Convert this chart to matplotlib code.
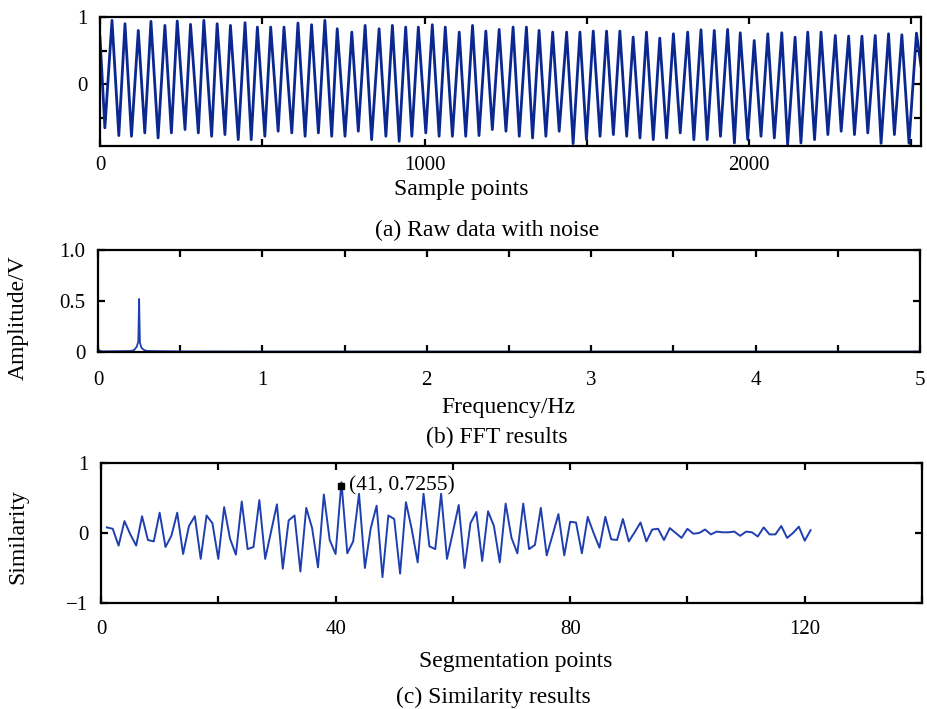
import matplotlib
matplotlib.use("Agg")
import matplotlib.pyplot as plt

plt.rcParams["font.family"] = ["Liberation Serif", "DejaVu Serif"]

# (a) raw signal: extrema (sample index, value)
raw_start = (0, 0.70)
raw_end = (2530, 0.27)
peak_pos = [37, 77, 118, 157, 200, 238, 279, 320, 361, 402, 447, 485, 526, 567, 610,
            652, 693, 731, 776, 817, 860, 901, 942, 981, 1024, 1064, 1107, 1148, 1189, 1230,
            1273, 1314, 1353, 1395, 1438, 1479, 1520, 1561, 1602, 1643, 1684, 1725, 1767, 1811,
            1852, 1893, 1934, 1973, 2016, 2058, 2101, 2142, 2181, 2222, 2266, 2307, 2348, 2389,
            2430, 2471, 2516]
peak_val = [0.95, 0.90, 0.80, 0.935, 0.875, 0.94, 0.89, 0.95, 0.90, 0.875,
            0.915, 0.85, 0.85, 0.85, 0.91, 0.885, 0.95, 0.825, 0.775, 0.875,
            0.825, 0.875, 0.85, 0.85, 0.885, 0.85, 0.775, 0.875, 0.79, 0.815,
            0.85, 0.85, 0.80, 0.775, 0.775, 0.775, 0.79, 0.79, 0.79, 0.70,
            0.775, 0.685, 0.75, 0.775, 0.81, 0.80, 0.815, 0.765, 0.65, 0.75,
            0.765, 0.70, 0.775, 0.775, 0.725, 0.715, 0.715, 0.725, 0.75, 0.735, 0.76]
trough_pos = [15, 58, 97, 138, 179, 220, 262, 303, 344, 385, 426, 466, 508, 549, 591,
              632, 673, 714, 755, 796, 837, 881, 922, 961, 1004, 1045, 1086, 1127, 1168, 1209,
              1251, 1292, 1333, 1374, 1415, 1458, 1499, 1541, 1582, 1623, 1664, 1705, 1746, 1788,
              1830, 1871, 1912, 1955, 1996, 2037, 2078, 2119, 2160, 2202, 2243, 2284, 2325, 2366,
              2407, 2448, 2493]
trough_val = [-0.65, -0.765, -0.775, -0.725, -0.80, -0.725, -0.675, -0.725, -0.775, -0.75,
              -0.825, -0.825, -0.775, -0.70, -0.725, -0.775, -0.725, -0.775, -0.775, -0.70,
              -0.825, -0.775, -0.85, -0.775, -0.725, -0.775, -0.775, -0.775, -0.765, -0.675,
              -0.70, -0.775, -0.80, -0.775, -0.70, -0.885, -0.825, -0.775, -0.75, -0.775,
              -0.80, -0.825, -0.80, -0.725, -0.825, -0.825, -0.775, -0.875, -0.825, -0.775,
              -0.80, -0.90, -0.875, -0.825, -0.75, -0.70, -0.75, -0.725, -0.88, -0.75, -0.88]

# (b) FFT amplitude spectrum
fft_freq = [0.0, 0.01, 0.03, 0.10, 0.20, 0.22, 0.235, 0.245, 0.25, 0.255, 0.265, 0.28, 0.30,
            0.50, 1.0, 2.0, 3.0, 4.0, 5.0]
fft_amp = [0.03, 0.012, 0.006, 0.008, 0.01, 0.02, 0.05, 0.10, 0.52, 0.09, 0.04, 0.02, 0.01,
           0.006, 0.005, 0.005, 0.005, 0.005, 0.005]

# (c) similarity per segmentation point 1..121
sim_idx = list(range(1, 122))
sim_val = [0.08, 0.06, -0.18, 0.17, -0.02, -0.18, 0.24, -0.10, -0.12, 0.29,
           -0.20, -0.04, 0.29, -0.30, 0.10, 0.24, -0.37, 0.25, 0.14, -0.37,
           0.37, -0.08, -0.31, 0.45, -0.23, -0.20, 0.47, -0.37, 0.02, 0.41,
           -0.51, 0.18, 0.25, -0.55, 0.36, 0.07, -0.49, 0.55, -0.10, -0.30,
           0.7255, -0.29, -0.12, 0.56, -0.50, 0.07, 0.39, -0.63, 0.25, 0.20,
           -0.58, 0.44, 0.05, -0.42, 0.56, -0.19, -0.23, 0.56, -0.37, 0.01,
           0.40, -0.50, 0.14, 0.30, -0.40, 0.31, 0.10, -0.42, 0.42, -0.07,
           -0.29, 0.42, -0.23, -0.17, 0.36, -0.32, -0.03, 0.27, -0.32, 0.16,
           0.15, -0.29, 0.23, 0.0, -0.21, 0.23, -0.09, -0.10, 0.20, -0.12,
           0.01, 0.15, -0.12, 0.05, 0.06, -0.10, 0.07, 0.0, -0.07, 0.06,
           -0.01, 0.0, 0.05, -0.02, 0.02, 0.01, 0.01, 0.02, -0.04, 0.02,
           0.01, -0.05, 0.08, -0.02, -0.02, 0.10, -0.07, 0.0, 0.09, -0.11, 0.04]
best_idx, best_val = 41, 0.7255

W, H = 927, 709
fig = plt.figure(figsize=(W / 100, H / 100), dpi=100)


def box(l, t, r, b):
    return [l / W, 1 - b / H, (r - l) / W, (b - t) / H]


def style(ax):
    for s in ax.spines.values():
        s.set_linewidth(1.6)
    ax.tick_params(direction="in", top=True, right=True, length=5, width=1.6,
                   labelsize=15, pad=9)


# (a)
pts = sorted([raw_start, raw_end] + list(zip(peak_pos, peak_val)) + list(zip(trough_pos, trough_val)))
ax1 = fig.add_axes(box(100, 17, 921, 146))
ax1.plot([p[0] for p in pts], [p[1] for p in pts], color="#0b2890", lw=2.0)
ax1.set_xlim(0, 2530)
ax1.set_ylim(-0.92, 1.0)
ax1.set_xticks([0, 500, 1000, 1500, 2000, 2500])
ax1.set_xticklabels(["0", "", "1000", "", "2000", ""])
ax1.set_yticks([1, 0.5, 0, -0.5])
ax1.set_yticklabels(["1", "", "0", ""])
style(ax1)
ax1.tick_params(axis="x", pad=7)

# (b)
ax2 = fig.add_axes(box(98, 250, 920, 352))
ax2.plot(fft_freq, fft_amp, color="#1f3fb0", lw=1.3)
ax2.set_xlim(0, 5)
ax2.set_ylim(0, 1)
ax2.set_xticks([0, 0.5, 1, 1.5, 2, 2.5, 3, 3.5, 4, 4.5, 5])
ax2.set_xticklabels(["0", "", "1", "", "2", "", "3", "", "4", "", "5"])
ax2.set_yticks([0, 0.5, 1.0])
ax2.set_yticklabels(["0", "0.5", "1.0"])
style(ax2)
ax2.tick_params(axis="x", pad=14)

# (c)
ax3 = fig.add_axes(box(101, 463, 922, 603))
ax3.plot(sim_idx, sim_val, color="#1f3fb0", lw=1.4)
ax3.plot([best_idx], [best_val - 0.05], marker="s", color="black", ms=5, ls="none")
ax3.text(best_idx + 1.3, best_val - 0.05, "(%d, %.4f)" % (best_idx, best_val), fontsize=15.5,
         va="center", ha="left")
ax3.set_xlim(0, 140)
ax3.set_ylim(-1, 1)
ax3.set_xticks(range(0, 141, 20))
ax3.set_xticklabels(["0", "", "40", "", "80", "", "120", ""])
ax3.set_yticks([-1, 0, 1])
ax3.set_yticklabels(["\u22121", "0", "1"])
style(ax3)
ax3.tick_params(axis="x", pad=12)

# labels and captions
fs = 17
fig.text(461 / W, 1 - 190 / H, "Sample points", ha="center", va="center", fontsize=fs)
fig.text(487 / W, 1 - 230 / H, "(a) Raw data with noise", ha="center", va="center", fontsize=fs)
fig.text(18 / W, 1 - 318 / H, "Amplitude/V", ha="center", va="center", rotation=90, fontsize=fs)
fig.text(508 / W, 1 - 408 / H, "Frequency/Hz", ha="center", va="center", fontsize=fs)
fig.text(497 / W, 1 - 437 / H, "(b) FFT results", ha="center", va="center", fontsize=fs)
fig.text(18 / W, 1 - 537 / H, "Similarity", ha="center", va="center", rotation=90, fontsize=fs)
fig.text(516 / W, 1 - 662 / H, "Segmentation points", ha="center", va="center", fontsize=fs)
fig.text(493 / W, 1 - 697 / H, "(c) Similarity results", ha="center", va="center", fontsize=fs)

fig.savefig("out.png", dpi=100)
